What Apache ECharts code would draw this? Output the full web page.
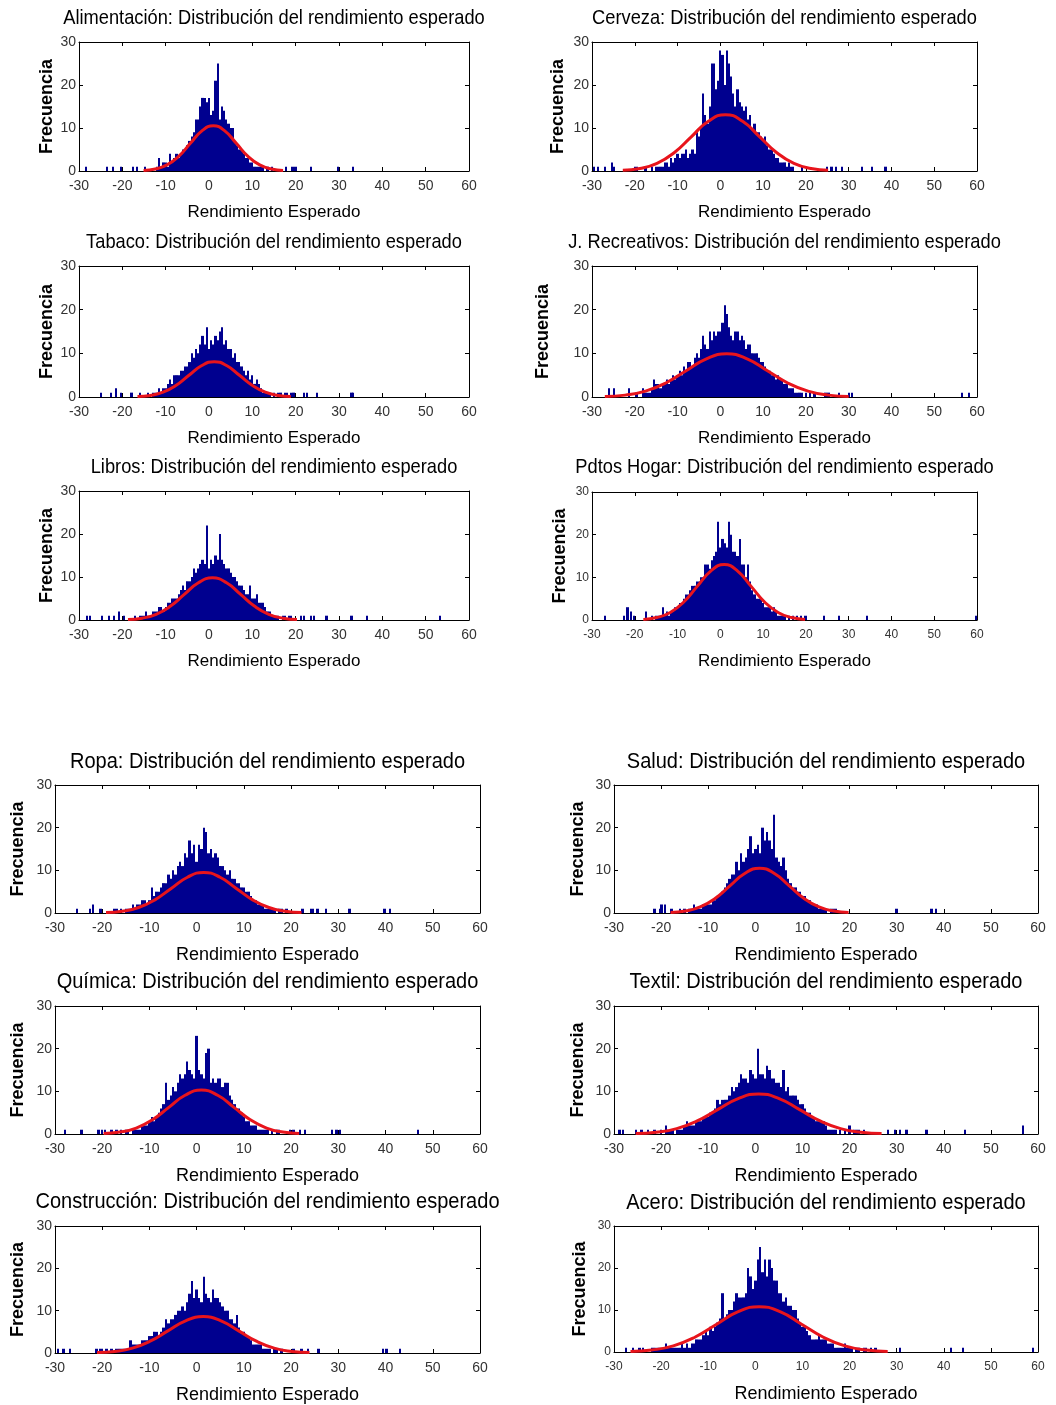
<!DOCTYPE html>
<html>
<head>
<meta charset="utf-8">
<script src="https://cdn.jsdelivr.net/npm/echarts@6/dist/echarts.min.js"></script>
<style>
html,body{margin:0;padding:0;background:#fff;}
#chart{width:1056px;height:1405px;}
</style>
</head>
<body>
<div id="chart"></div>
<script>
// ---------- DATA ----------
const BIN = 0.5;                       // histogram bin width used for the counts below
const xTicks = [-30, -20, -10, 0, 10, 20, 30, 40, 50, 60];
const yTicks = [0, 10, 20, 30];
const titles = ['Alimentación', 'Cerveza', 'Tabaco', 'J. Recreativos', 'Libros', 'Pdtos Hogar',
                'Ropa', 'Salud', 'Química', 'Textil', 'Construcción', 'Acero'];

// Alimentación
const alimStart = -12;
const alimCounts = [1,3,1,2,2,1,4,2,3,4,3,4,5,5,6,7,8,9,12,12,15,17,17,16,17,13,14,21,25,12,15,14,12,11,10,10,7,6,5,5,4,3,3,2,2,1,1,1,1,1,0,1,0,1];
const alimOut = [[-28.4,1],[-23.5,1],[-22.1,1],[-20.4,1],[-17.6,1],[-16.7,1],[-14.7,1],[17.8,1],[19.1,1],[19.7,1],[20.1,1],[23.6,1],[29.7,1],[33.2,1]];
const alimCurve = [[-15.1,0.12],[-12.4,0.46],[-9.7,1.42],[-7.0,3.41],[-4.35,6.37],[-1.7,9.27],[1,10.5],[3.7,9.27],[6.35,6.37],[9.0,3.41],[11.7,1.42],[14.4,0.46],[17.1,0.12]];

// Cerveza
const cervStart = -20;
const cervCounts = [1,1,0,0,0,1,0,0,1,0, 1,1,1,1,2,2,1,3,2,3, 4,3,4,4,5,3,4,5,4,9, 8,10,18,13,11,15,25,25,19,21, 28,27,20,28,25,22,18,15,19,16, 15,14,15,12,13,10,11,9,9,8, 7,8,6,5,5,4,3,3,2,2, 2,1,2,1,1,0,0,0,1];
const cervOut = [[-29.5,1],[-28.5,1],[-27,1],[-25.3,2],[-24.8,1],[25,1],[26,1],[27,1],[28.5,1],[33.1,1],[35.5,1],[38.6,1]];
const cervCurve = [[-22.8,0.15],[-18.8,0.58],[-14.8,1.77],[-10.8,4.25],[-6.8,7.95],[-2.8,11.56],[1.2,13.1],[5.2,11.56],[9.2,7.95],[13.2,4.25],[17.2,1.77],[21.2,0.58],[25.2,0.15]];

// Tabaco
const tabStart = -16;
const tabCounts = [1,0,0,0,1,0,1,1,1,2, 1,2,2,3,4,3,5,5,5,6, 6,7,7,8,10,9,11,10,12,14, 12,16,11,13,12,14,13,15,16,12, 13,11,11,9,10,8,8,7,6,5, 6,4,5,3,4,3,2,1,1,1, 1,0,1,0,1,1,0,1,1,0, 1,1];
const tabOut = [[-25,1],[-22.6,1],[-21.5,2],[-20.4,1],[-17.9,1],[22,1],[22.7,1],[24.9,1],[32.9,1],[33.3,1]];
const tabCurve = [[-16.5,0.09],[-13.55,0.36],[-10.6,1.10],[-7.65,2.63],[-4.7,4.91],[-1.75,7.15],[1.2,8.1],[4.15,7.15],[7.1,4.91],[10.05,2.63],[13.0,1.10],[15.95,0.36],[18.9,0.09]];

// J. Recreativos
const jrecStart = -18;
const jrecCounts = [2,1,1,1,2,4,3,3,2,3, 3,4,3,4,5,4,5,6,5,7, 6,8,8,7,9,10,9,11,14,12, 11,15,13,15,14,15,15,17,21,19, 16,14,13,15,15,13,14,13,11,12, 12,10,10,10,9,8,8,7,6,6, 5,5,4,5,4,4,3,3,2,2, 2,1,1,1,1,0,1,0,1,0, 1];
const jrecOut = [[-26,2],[-24.9,2],[-21.4,2],[-19.6,1],[24.6,1],[25.3,1],[27.7,1],[30,1],[30.8,1],[56.5,1],[58.1,1]];
const jrecCurve = [[-27,0.11],[-22.25,0.43],[-17.5,1.34],[-12.75,3.21],[-8,6.0],[-3.25,8.74],[1.5,9.9],[6.25,8.74],[11,6.0],[15.75,3.21],[20.5,1.34],[25.25,0.43],[30,0.11]];

// Libros
const libStart = -17;
const libCounts = [1,0,1,1,1,2,1,1,2,2, 2,3,3,2,3,4,4,5,5,5, 6,7,8,7,9,9,10,12,11,12, 13,14,13,22,12,14,13,15,14,20, 14,13,12,12,11,10,10,9,8,8, 7,6,6,8,5,5,6,4,4,4, 3,2,2,1,1,1,1,0,1,1, 0,1,1];
const libOut = [[-28.2,1],[-27.4,1],[-24.7,1],[-23.1,1],[-21.9,1],[-20.8,2],[-19.6,1],[21.2,1],[22,1],[23.5,1],[24.3,1],[27.1,1],[32.9,1],[36.5,1],[53.3,1]];
const libCurve = [[-18.7,0.11],[-15.45,0.43],[-12.2,1.33],[-8.95,3.18],[-5.7,5.94],[-2.45,8.65],[0.8,9.8],[4.05,8.65],[7.3,5.94],[10.55,3.18],[13.8,1.33],[17.05,0.43],[20.3,0.11]];

// Pdtos Hogar
const pdtStart = -16;
const pdtCounts = [1,0,1,1,1,3,1,2,1,2, 2,3,3,4,4,5,6,6,7,8, 8,9,9,10,10,13,13,12,14,15, 16,23,17,19,18,17,23,20,16,16, 15,19,13,13,10,13,9,7,6,5, 5,5,4,3,3,3,2,3,2,1, 1,1,1,0,1,0,1,0,1];
const pdtOut = [[-27,1],[-22.5,1],[-21.7,3],[-20.9,2],[-20.1,1],[-17.4,2],[18.8,1],[19.9,1],[24.2,1],[27.7,1],[34.3,1],[59.8,1]];
const pdtCurve = [[-18,0.14],[-14.85,0.57],[-11.7,1.76],[-8.55,4.22],[-5.4,7.88],[-2.25,11.47],[0.9,13],[4.05,11.47],[7.2,7.88],[10.35,4.22],[13.5,1.76],[16.65,0.57],[19.8,0.14]];

// Ropa
const ropaStart = -17.5;
const ropaCounts = [1,1,0,1,0,1,1,1,2,1, 2,2,3,3,2,3,6,4,5,5, 6,7,7,9,8,10,9,11,12,11, 14,13,17,14,16,12,16,15,20,19, 14,15,13,14,13,11,11,10,9,10, 8,8,7,7,6,6,5,5,4,3, 3,2,2,2,1,1,1,1,1,0, 1,1,0,1];
const ropaOut = [[-25.4,1],[-22.6,1],[-21.9,2],[-20.4,1],[22.4,1],[24.2,1],[24.6,1],[25.6,1],[27.4,1],[32.4,1],[39.8,1],[40.9,1]];
const ropaCurve = [[-19.2,0.11],[-15.75,0.42],[-12.3,1.29],[-8.85,3.08],[-5.4,5.76],[-1.95,8.38],[1.5,9.5],[4.95,8.38],[8.4,5.76],[11.85,3.08],[15.3,1.29],[18.75,0.42],[22.2,0.11]];

// Salud
const saludStart = -16;
const saludCounts = [1,0,1,0,1,1,2,1,1,1, 2,2,2,2,3,3,4,4,5,6, 7,8,9,9,12,10,14,12,13,15, 18,14,15,16,14,20,17,19,17,15, 23,13,12,11,13,10,8,7,6,6, 5,5,4,4,3,3,2,2,2,1, 1,1,1,0,1,1,1];
const saludOut = [[-21.4,1],[-20.3,1],[-19.9,2],[-19.2,2],[-17.8,1],[30,1],[37.4,1],[38.4,1]];
const saludCurve = [[-18,0.12],[-14.85,0.46],[-11.7,1.42],[-8.55,3.41],[-5.4,6.37],[-2.25,9.27],[0.9,10.5],[4.05,9.27],[7.2,6.37],[10.35,3.41],[13.5,1.42],[16.65,0.46],[19.8,0.12]];

// Química
const quimStart = -18;
const quimCounts = [1,0,1,0,1,0,1,1,0,1, 1,1,1,2,2,2,3,4,3,4, 5,6,7,12,8,9,11,10,12,14, 13,14,17,15,14,13,23,15,14,13, 19,20,12,13,12,13,13,11,12,12, 9,8,7,6,6,5,4,3,3,2, 2,2,1,1,1,1,1,0,1,0, 1,1];
const quimOut = [[-27.9,1],[-24.4,1],[-20.8,1],[-20.1,1],[-19.4,1],[19.8,1],[20.5,1],[21.9,1],[22.9,1],[28.6,1],[29.6,1],[30.3,1],[46.9,1]];
const quimCurve = [[-19.7,0.11],[-16.25,0.45],[-12.8,1.39],[-9.35,3.34],[-5.9,6.25],[-2.45,9.09],[1,10.3],[4.45,9.09],[7.9,6.25],[11.35,3.34],[14.8,1.39],[18.25,0.45],[21.7,0.11]];

// Textil
const textStart = -20;
const textCounts = [1,0,2,1,1,1,0,1,1,1, 2,3,2,2,2,3,3,3,4,4, 4,5,5,6,8,7,8,8,8,9, 11,10,11,12,14,13,13,12,15,14, 13,20,14,14,13,16,15,13,13,12, 12,11,15,10,11,9,9,9,8,7, 7,6,5,5,4,4,3,3,3,3, 2,1,1,1,1,0,1,0,1,0, 2,0,1,1,1,0,1];
const textOut = [[-28.8,1],[-28.1,1],[-25.3,1],[-24.2,1],[-22.8,1],[-21.4,1],[28.2,1],[29.6,1],[30.7,1],[32.1,1],[36.3,1],[44.5,1],[56.8,2]];
const textCurve = [[-25.4,0.10],[-21.05,0.41],[-16.7,1.27],[-12.35,3.05],[-8.0,5.70],[-3.65,8.30],[0.7,9.4],[5.05,8.30],[9.4,5.70],[13.75,3.05],[18.1,1.27],[22.45,0.41],[26.8,0.10]];

// Construcción
const consStart = -18;
const consCounts = [1,0,1,1,1,1,1,1,3,2, 2,2,2,3,3,3,4,4,5,5, 4,5,6,8,7,8,8,9,10,10, 11,10,12,14,17,13,15,13,12,18, 14,13,12,15,13,13,12,11,10,10, 8,8,7,9,6,5,5,4,4,3, 2,2,2,2,1,1,1,1,0,1, 1,0,1];
const consOut = [[-29.3,1],[-28.2,1],[-26.8,1],[-21.2,1],[-20.5,1],[-20.1,1],[-19.1,1],[20.5,1],[22.2,1],[23.6,1],[25.8,1],[39.5,1],[40.2,1],[43,1]];
const consCurve = [[-21.1,0.10],[-17.35,0.38],[-13.6,1.16],[-9.85,2.79],[-6.1,5.22],[-2.35,7.59],[1.4,8.6],[5.15,7.59],[8.9,5.22],[12.65,2.79],[16.4,1.16],[20.15,0.38],[23.9,0.10]];

// Acero
const aceroStart = -22;
const aceroCounts = [1,1,1,1,1,1,2,1,1,1, 1,1,1,2,1,2,1,2,2,3, 3,3,4,5,4,6,5,6,7,8, 14,8,9,10,10,12,14,13,13,13, 14,20,18,15,17,22,25,19,22,18, 22,20,17,17,14,14,12,13,11,11, 10,10,8,7,6,6,5,4,3,3, 3,4,3,3,3,2,2,2,1,1, 1,1,2,1,1,1,0,1,1,0, 1,1,0,1,0,1];
const aceroOut = [[-27.4,1],[-26,1],[-24.6,1],[-23.8,1],[30.7,1],[41.6,1],[44.1,1],[59,1]];
const aceroCurve = [[-26.5,0.12],[-22,0.47],[-17.4,1.46],[-12.85,3.51],[-8.3,6.55],[-3.75,9.53],[0.8,10.8],[5.35,9.53],[9.9,6.55],[14.45,3.51],[19.0,1.46],[23.55,0.47],[28.1,0.12]];

// ---------- LAYOUT (positions / styles only) ----------
const layout = [
  {left:79,  width:390, top:42,   height:129, ty:18,   nameGap:32},
  {left:592, width:385, top:42,   height:129, ty:18,   nameGap:34},
  {left:79,  width:390, top:266,  height:131, ty:242,  nameGap:32},
  {left:592, width:385, top:266,  height:131, ty:242,  nameGap:49},
  {left:79,  width:390, top:491,  height:129, ty:467,  nameGap:32},
  {left:592, width:385, top:492,  height:128, ty:467,  nameGap:32, small:true},
  {left:55,  width:425, top:785,  height:128, ty:762,  nameGap:37, big:true},
  {left:614, width:424, top:785,  height:128, ty:762,  nameGap:36, big:true},
  {left:55,  width:425, top:1006, height:128, ty:982,  nameGap:37, big:true},
  {left:614, width:424, top:1006, height:128, ty:982,  nameGap:36, big:true},
  {left:55,  width:425, top:1226, height:127, ty:1202, nameGap:37, big:true},
  {left:614, width:424, top:1226, height:126, ty:1203, nameGap:34, big:true, small:true}
];

const panelData = [
  [alimStart, alimCounts, alimOut, alimCurve],
  [cervStart, cervCounts, cervOut, cervCurve],
  [tabStart, tabCounts, tabOut, tabCurve],
  [jrecStart, jrecCounts, jrecOut, jrecCurve],
  [libStart, libCounts, libOut, libCurve],
  [pdtStart, pdtCounts, pdtOut, pdtCurve],
  [ropaStart, ropaCounts, ropaOut, ropaCurve],
  [saludStart, saludCounts, saludOut, saludCurve],
  [quimStart, quimCounts, quimOut, quimCurve],
  [textStart, textCounts, textOut, textCurve],
  [consStart, consCounts, consOut, consCurve],
  [aceroStart, aceroCounts, aceroOut, aceroCurve]
];

const SANS = '"Liberation Sans", Arial, sans-serif';
const BAR_COLOR = '#00008f';
const CURVE_COLOR = '#e8141c';

function renderBar(params, api) {
  const x = api.value(0), h = api.value(1);
  if (!h) return null;
  const p0 = api.coord([x - BIN / 2, h]);
  const p1 = api.coord([x + BIN / 2, 0]);
  const x0 = Math.round(p0[0]);
  const x1 = Math.max(Math.round(p1[0]), x0 + 1);
  return {
    type: 'rect',
    shape: {x: x0, y: p0[1], width: x1 - x0, height: p1[1] - p0[1]},
    style: {fill: BAR_COLOR}
  };
}

const grid = [], xAxis = [], yAxis = [], series = [], graphic = [];
const tickStyle = {show: true, inside: true, length: 4, lineStyle: {color: '#000', width: 1}};
const lineStyle = {show: true, onZero: false, lineStyle: {color: '#000', width: 1}};

layout.forEach((L, i) => {
  grid.push({left: L.left, top: L.top, width: L.width, height: L.height, containLabel: false});
  const labelFont = L.small ? 12 : 14;
  xAxis.push({
    type: 'value', gridIndex: i, position: 'bottom', min: xTicks[0], max: xTicks[xTicks.length - 1], interval: 10,
    axisLine: lineStyle, axisTick: tickStyle, splitLine: {show: false},
    axisLabel: {show: true, margin: L.small ? 9 : 8, color: '#333', fontFamily: SANS, fontSize: labelFont},
    name: 'Rendimiento Esperado', nameLocation: 'middle', nameGap: 33,
    nameTextStyle: {color: '#000', fontFamily: SANS, fontSize: L.big ? 18 : 17}
  });
  xAxis.push({
    type: 'value', gridIndex: i, position: 'top', min: xTicks[0], max: xTicks[xTicks.length - 1], interval: 10,
    axisLine: lineStyle, axisTick: tickStyle, axisLabel: {show: false}, splitLine: {show: false}
  });
  yAxis.push({
    type: 'value', gridIndex: i, position: 'left', min: yTicks[0], max: yTicks[yTicks.length - 1], interval: 10,
    axisLine: lineStyle, axisTick: tickStyle, splitLine: {show: false},
    axisLabel: {show: true, margin: 3, color: '#333', fontFamily: SANS, fontSize: labelFont},
    name: 'Frecuencia', nameLocation: 'middle', nameGap: L.nameGap - 9, nameRotate: 90,
    nameTextStyle: {color: '#000', fontFamily: SANS, fontSize: 18, fontWeight: 'bold'}
  });
  yAxis.push({
    type: 'value', gridIndex: i, position: 'right', min: yTicks[0], max: yTicks[yTicks.length - 1], interval: 10,
    axisLine: lineStyle, axisTick: tickStyle, axisLabel: {show: false}, splitLine: {show: false}
  });

  const [start, counts, out, curve] = panelData[i];
  const bars = counts.map((c, k) => [start + k * BIN, c]).concat(out);
  series.push({
    type: 'custom', xAxisIndex: 2 * i, yAxisIndex: 2 * i, renderItem: renderBar,
    encode: {x: 0, y: 1}, data: bars, silent: true, animation: false, clip: true
  });
  series.push({
    type: 'line', xAxisIndex: 2 * i, yAxisIndex: 2 * i, data: curve, smooth: 0.5, showSymbol: false,
    lineStyle: {color: CURVE_COLOR, width: 3}, silent: true, animation: false, z: 5
  });

  graphic.push({
    type: 'text', x: L.left + L.width / 2, y: L.ty, scaleX: L.big ? 0.91 : 0.87,
    style: {text: titles[i] + ': Distribución del rendimiento esperado', font: (L.big ? '22px ' : '21px ') + SANS,
            fill: '#000', align: 'center', verticalAlign: 'middle'}
  });
});

const chart = echarts.init(document.getElementById('chart'), null, {renderer: 'canvas'});
chart.setOption({
  backgroundColor: '#ffffff',
  animation: false,
  grid, xAxis, yAxis, series, graphic
});
</script>
</body>
</html>
